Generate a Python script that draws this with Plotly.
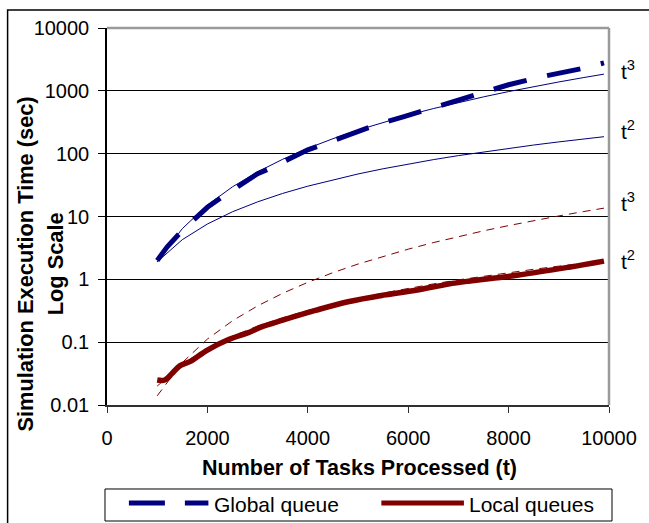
import plotly.graph_objects as go

# ---------------- data ----------------
global_t = [1000, 1200, 1500, 1800, 2000, 2300, 2700, 3000, 3300, 3700, 4000, 4400,
            4800, 5400, 5900, 6500, 7000, 7600, 8000, 8700, 9200, 9500, 9900]
global_vals = [2.0, 3.3, 6.0, 10, 14, 20.6, 34, 48, 61, 89, 115, 150,
               200, 295, 385, 545, 720, 1030, 1250, 1700, 2020, 2300, 2780]

local_t = [1000, 1150, 1300, 1450, 1650, 2000, 2400, 2850, 3050, 3500, 4150, 4800,
           5500, 6150, 6800, 7200, 8200, 9200, 9900]
local_vals = [0.025, 0.025, 0.032, 0.042, 0.049, 0.075, 0.108, 0.145, 0.172, 0.224, 0.32, 0.44,
              0.56, 0.67, 0.84, 0.935, 1.17, 1.56, 1.95]

fit_t = [1000, 1500, 2000, 2500, 3000, 3500, 4000, 4500, 5000, 5500, 6000, 6500,
         7000, 7500, 8000, 8500, 9000, 9500, 9900]
global_fit_t3 = [1.9, 6.41, 15.2, 29.7, 51.3, 81.5, 121.6, 173.1, 237.5, 316.1, 410.4, 521.8,
                 651.7, 801.6, 972.8, 1166.9, 1385.1, 1629.0, 1843.5]
global_fit_t2 = [1.9, 4.28, 7.6, 11.9, 17.1, 23.3, 30.4, 38.5, 47.5, 57.5, 68.4, 80.3,
                 93.1, 106.9, 121.6, 137.3, 153.9, 171.5, 186.2]
local_fit_t3 = [0.014, 0.0473, 0.112, 0.219, 0.378, 0.600, 0.896, 1.276, 1.75, 2.33, 3.02, 3.84,
                4.80, 5.91, 7.17, 8.60, 10.21, 12.0, 13.58]
local_fit_t2 = [0.02, 0.045, 0.08, 0.125, 0.18, 0.245, 0.32, 0.405, 0.5, 0.605, 0.72, 0.845,
                0.98, 1.125, 1.28, 1.445, 1.62, 1.805, 1.96]

x_ticks = [0, 2000, 4000, 6000, 8000, 10000]
x_tick_text = ["0", "2000", "4000", "6000", "8000", "10000"]
y_ticks = [0.01, 0.1, 1, 10, 100, 1000, 10000]
y_tick_text = ["0.01", "0.1", "1", "10", "100", "1000", "10000"]

series_names = ["Global queue", "Local queues"]
fit_labels = ["t<sup>3</sup>", "t<sup>2</sup>", "t<sup>3</sup>", "t<sup>2</sup>"]
y_title_lines = ["Simulation Execution Time (sec)", "Log Scale"]
x_title = "Number of Tasks Processed (t)"

NAVY = "#000080"
DRED = "#800000"
FONT = "Liberation Sans, Arial, sans-serif"

fig = go.Figure()
fig.add_trace(go.Scatter(x=fit_t, y=global_fit_t3, mode="lines", line=dict(color=NAVY, width=1),
                         showlegend=False, hoverinfo="skip"))
fig.add_trace(go.Scatter(x=fit_t, y=global_fit_t2, mode="lines", line=dict(color=NAVY, width=1),
                         showlegend=False, hoverinfo="skip"))
fig.add_trace(go.Scatter(x=fit_t, y=local_fit_t3, mode="lines",
                         line=dict(color=DRED, width=1, dash="8px,6px"),
                         showlegend=False, hoverinfo="skip"))
fig.add_trace(go.Scatter(x=fit_t, y=local_fit_t2, mode="lines",
                         line=dict(color=DRED, width=1, dash="8px,6px"),
                         showlegend=False, hoverinfo="skip"))
fig.add_trace(go.Scatter(x=global_t, y=global_vals, mode="lines", name=series_names[0],
                         line=dict(color=NAVY, width=5, dash="34px,21px"), showlegend=False))
fig.add_trace(go.Scatter(x=local_t, y=local_vals, mode="lines", name=series_names[1],
                         line=dict(color=DRED, width=5.5, shape="spline"), showlegend=False))

shapes = [
    # grey plot-area border (top and right)
    dict(type="line", xref="paper", yref="paper", x0=0, x1=1, y0=1, y1=1,
         line=dict(color="#9a9a9a", width=2.5), layer="above"),
    dict(type="line", xref="paper", yref="paper", x0=1, x1=1, y0=0, y1=1,
         line=dict(color="#9a9a9a", width=2.5), layer="above"),
    # outer frame
    dict(type="rect", xref="paper", yref="paper", x0=-0.198, x1=1.5, y0=-0.6, y1=1.0477,
         line=dict(color="#000000", width=1.5)),
    # legend box
    dict(type="rect", xref="paper", yref="paper", x0=-0.004, x1=1.006, y0=-0.3077, y1=-0.2228,
         line=dict(color="#000000", width=1)),
    dict(type="line", xref="paper", yref="paper", x0=0.0436, x1=0.202, y0=-0.26, y1=-0.26,
         line=dict(color=NAVY, width=5, dash="36px,20px")),
    dict(type="line", xref="paper", yref="paper", x0=0.5465, x1=0.711, y0=-0.26, y1=-0.26,
         line=dict(color=DRED, width=5)),
]

annotations = [
    dict(text="<b>" + y_title_lines[0] + "</b>", xref="paper", yref="paper",
         x=-0.1624, y=0.374, xanchor="center", yanchor="middle", textangle=-90, showarrow=False,
         font=dict(family=FONT, size=21.8, color="black")),
    dict(text="<b>" + y_title_lines[1] + "</b>", xref="paper", yref="paper",
         x=-0.103, y=0.374, xanchor="center", yanchor="middle", textangle=-90, showarrow=False,
         font=dict(family=FONT, size=21.8, color="black")),
    dict(text="<b>" + x_title + "</b>", xref="paper", yref="paper",
         x=0.503, y=-0.167, xanchor="center", yanchor="middle", showarrow=False,
         font=dict(family=FONT, size=21.5, color="black")),
    dict(text=series_names[0], xref="paper", yref="paper", x=0.2099, y=-0.263, xanchor="left",
         yanchor="middle", showarrow=False, font=dict(family=FONT, size=21, color="black")),
    dict(text=series_names[1], xref="paper", yref="paper", x=0.7168, y=-0.263, xanchor="left",
         yanchor="middle", showarrow=False, font=dict(family=FONT, size=21, color="black")),
]
label_y = [0.8886, 0.7294, 0.5385, 0.3846]
for lab, yy in zip(fit_labels, label_y):
    annotations.append(dict(text=lab, xref="paper", yref="paper", x=1.0198, y=yy, xanchor="left",
                            yanchor="middle", showarrow=False,
                            font=dict(family=FONT, size=21, color="black")))

fig.update_layout(
    width=649, height=523,
    margin=dict(l=107, r=37, t=28, b=118),
    paper_bgcolor="white", plot_bgcolor="white",
    font=dict(family=FONT, size=20, color="black"),
    showlegend=False,
    shapes=shapes, annotations=annotations,
    xaxis=dict(range=[0, 10000], tickvals=x_ticks, ticktext=x_tick_text, showgrid=False,
               zeroline=False, showline=True, linecolor="#303030", linewidth=1.5,
               ticks="outside", ticklen=6, tickcolor="#303030", ticklabelstandoff=8,
               tickfont=dict(family=FONT, size=20)),
    yaxis=dict(type="log", range=[-2, 4], tickvals=y_ticks, ticktext=y_tick_text,
               showgrid=True, gridcolor="#000000", gridwidth=1, zeroline=False,
               showline=True, linecolor="#000000", linewidth=1.5,
               ticks="outside", ticklen=7, tickcolor="#000000", ticklabelstandoff=5,
               tickfont=dict(family=FONT, size=20)),
)

fig.write_html("out.html", config={"displayModeBar": False},
               post_script="document.body.style.margin='0';document.body.style.overflow='hidden';")
